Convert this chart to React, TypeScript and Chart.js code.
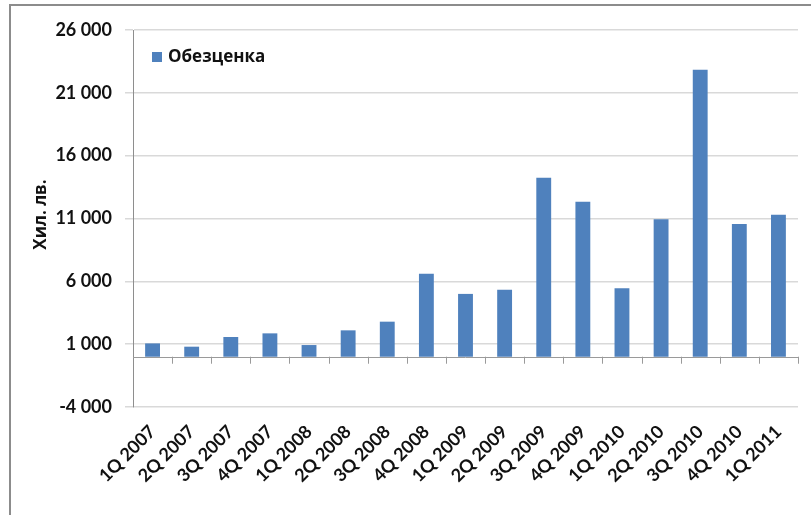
import React, { useEffect, useRef } from "react";
import { Chart, registerables } from "chart.js";

Chart.register(...registerables);

// Quarterly impairment, thousand BGN
const quarters = [
  "1Q 2007", "2Q 2007", "3Q 2007", "4Q 2007",
  "1Q 2008", "2Q 2008", "3Q 2008", "4Q 2008",
  "1Q 2009", "2Q 2009", "3Q 2009", "4Q 2009",
  "1Q 2010", "2Q 2010", "3Q 2010", "4Q 2010",
  "1Q 2011",
];
const impairment = [
  1060, 800, 1570, 1860,
  930, 2100, 2790, 6600,
  5000, 5330, 14250, 12340,
  5440, 10950, 22830, 10570,
  11300,
];
const seriesName = "Обезценка";
const yAxisTitle = "Хил. лв.";
const yMin = -4000;
const yMax = 26000;
const yStep = 5000;

const BAR_COLOR = "#4f81bd";
const FONT = "Lato, 'Open Sans', sans-serif";
const CYR_FONT = "'Open Sans', 'Noto Sans', sans-serif";

const fmt = (v: number) => {
  const s = Math.abs(v).toString().replace(/\B(?=(\d{3})+(?!\d))/g, " ");
  return (v < 0 ? "-" : "") + s;
};

// Category axis line drawn through zero, with tick marks between quarters
const zeroAxisPlugin = {
  id: "zeroAxis",
  afterDatasetsDraw(chart: any) {
    const { ctx, chartArea } = chart;
    const x = chart.scales.x;
    const y = chart.scales.y;
    const y0 = y.getPixelForValue(0);
    const n = chart.data.labels.length;
    const w = (x.right - x.left) / n;
    ctx.save();
    ctx.strokeStyle = "#9a9a9a";
    ctx.lineWidth = 1;
    ctx.beginPath();
    ctx.moveTo(chartArea.left, Math.round(y0) + 0.5);
    ctx.lineTo(chartArea.right, Math.round(y0) + 0.5);
    for (let i = 1; i <= n; i++) {
      const px = Math.round(x.left + i * w) + 0.5;
      ctx.moveTo(px, y0);
      ctx.lineTo(px, y0 + 7);
    }
    ctx.stroke();
    ctx.restore();
  },
};

// Legend inside the plot, top-left, plus the rotated y-axis title
const annotationsPlugin = {
  id: "annotations",
  afterDraw(chart: any) {
    const { ctx, chartArea } = chart;
    ctx.save();
    const lx = chartArea.left + 19;
    const ly = chartArea.top + 27;
    ctx.fillStyle = BAR_COLOR;
    ctx.fillRect(lx, ly - 5, 10, 10);
    ctx.fillStyle = "#111";
    ctx.font = `bold 17px ${CYR_FONT}`;
    ctx.textAlign = "left";
    ctx.textBaseline = "middle";
    ctx.fillText(chart.data.datasets[0].label, lx + 16, ly);

    const ty = (chartArea.top + chartArea.bottom) / 2 - 4;
    ctx.translate(41, ty);
    ctx.rotate(-Math.PI / 2);
    ctx.textAlign = "center";
    ctx.font = `bold 17px ${CYR_FONT}`;
    ctx.fillText(yAxisTitle, 0, 0);
    ctx.restore();
  },
};

export default function App() {
  const canvasRef = useRef<HTMLCanvasElement | null>(null);

  useEffect(() => {
    if (!canvasRef.current) return;
    const chart = new Chart(canvasRef.current, {
      type: "bar",
      data: {
        labels: quarters,
        datasets: [
          {
            label: seriesName,
            data: impairment,
            backgroundColor: BAR_COLOR,
            borderWidth: 0,
            barPercentage: 0.38,
            categoryPercentage: 1,
          },
        ],
      },
      options: {
        responsive: false,
        animation: false,
        layout: { padding: { left: 0, top: 30, right: 13, bottom: 0 } },
        plugins: {
          legend: { display: false },
          tooltip: { enabled: false },
        },
        scales: {
          x: {
            grid: { display: false },
            border: { display: false },
            ticks: {
              autoSkip: false,
              minRotation: 45,
              maxRotation: 45,
              padding: 6,
              color: "#111",
              font: { family: FONT, size: 18, weight: "bold" },
            },
            afterFit(scale: any) {
              scale.height = 108;
            },
          },
          y: {
            min: yMin,
            max: yMax,
            grid: { color: "#d9d9d9", tickLength: 8, lineWidth: 1.5 },
            border: { color: "#8e8e8e" },
            ticks: {
              stepSize: yStep,
              padding: 13,
              color: "#111",
              font: { family: FONT, size: 18, weight: "bold" },
              callback: (v: any) => fmt(Number(v)),
            },
            afterFit(scale: any) {
              scale.width = 133;
            },
          },
        },
      },
      plugins: [zeroAxisPlugin, annotationsPlugin],
    });
    return () => chart.destroy();
  }, []);

  return (
    <div style={{ position: "fixed", left: 0, top: 0, width: 811, height: 515, background: "#fff" }}>
      <div
        style={{
          position: "absolute",
          left: 9,
          top: 4,
          right: 0,
          bottom: 0,
          borderLeft: "2px solid #8c8c8c",
          borderTop: "2px solid #8c8c8c",
        }}
      />
      <canvas ref={canvasRef} width={811} height={515} style={{ position: "absolute", left: 0, top: 0 }} />
    </div>
  );
}
